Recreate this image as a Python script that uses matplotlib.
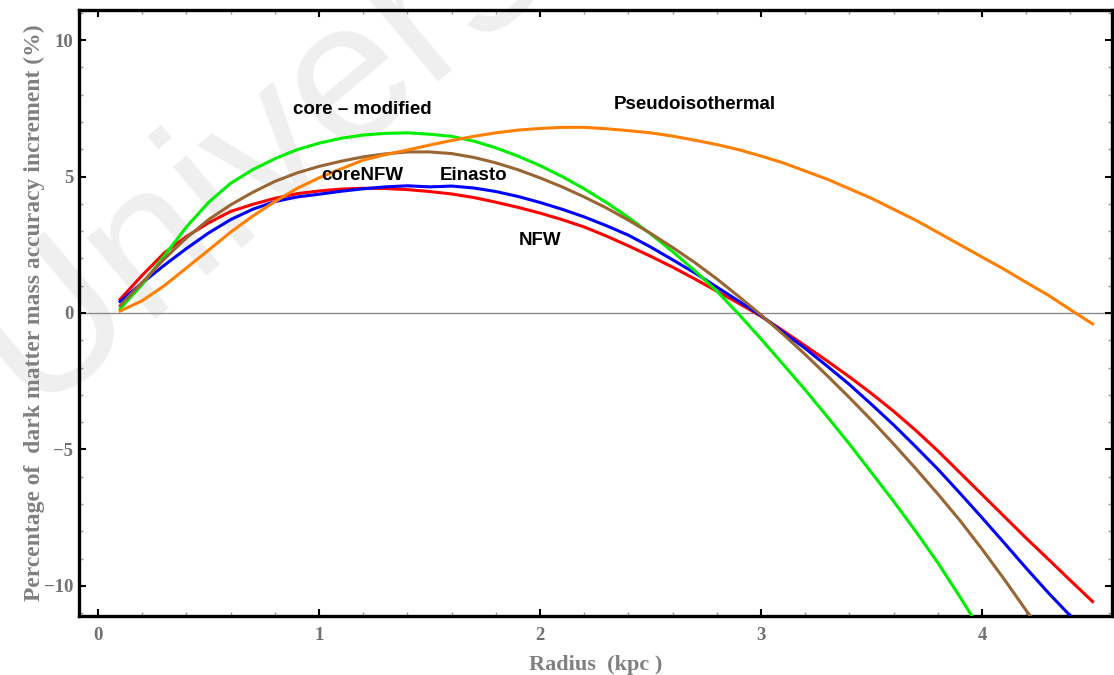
import numpy as np
import matplotlib
matplotlib.use("Agg")
import matplotlib.pyplot as plt
from matplotlib.ticker import MultipleLocator, FuncFormatter

# radius grid (kpc), 0.1 .. 4.5
radius = [0.1, 0.2, 0.3, 0.4, 0.5, 0.6, 0.7, 0.8, 0.9, 1.0,
          1.1, 1.2, 1.3, 1.4, 1.5, 1.6, 1.7, 1.8, 1.9, 2.0,
          2.1, 2.2, 2.3, 2.4, 2.5, 2.6, 2.7, 2.8, 2.9, 3.0,
          3.1, 3.2, 3.3, 3.4, 3.5, 3.6, 3.7, 3.8, 3.9, 4.0,
          4.1, 4.2, 4.3, 4.4, 4.5]

# percentage increment per profile (nan = off the chart)
nfw = [0.5, 1.38, 2.2, 2.8, 3.3, 3.72, 3.98, 4.2, 4.37, 4.47,
       4.54, 4.57, 4.56, 4.52, 4.45, 4.36, 4.23, 4.06, 3.87, 3.66,
       3.42, 3.15, 2.82, 2.46, 2.08, 1.68, 1.25, 0.8, 0.35, -0.12,
       -0.65, -1.2, -1.76, -2.34, -2.95, -3.6, -4.3, -5.05, -5.85, -6.65,
       -7.45, -8.25, -9.02, -9.8, -10.57]
einasto = [0.42, 1.1, 1.75, 2.36, 2.93, 3.42, 3.8, 4.08, 4.25, 4.35,
           4.46, 4.55, 4.62, 4.66, 4.62, 4.65, 4.58, 4.45, 4.27, 4.05,
           3.8, 3.52, 3.2, 2.85, 2.42, 1.95, 1.47, 0.95, 0.43, -0.1,
           -0.7, -1.3, -1.95, -2.62, -3.35, -4.1, -4.9, -5.72, -6.6, -7.5,
           -8.42, -9.35, -10.25, -11.1, np.nan]
core_nfw = [0.27, 1.12, 1.98, 2.75, 3.42, 3.96, 4.42, 4.82, 5.13, 5.37,
            5.56, 5.72, 5.83, 5.9, 5.9, 5.84, 5.7, 5.5, 5.25, 4.95,
            4.62, 4.25, 3.85, 3.4, 2.92, 2.4, 1.85, 1.25, 0.6, -0.07,
            -0.78, -1.52, -2.3, -3.1, -3.93, -4.8, -5.7, -6.63, -7.6, -8.65,
            -9.75, -10.9, -12.0, np.nan, np.nan]
core_mod = [0.15, 1.05, 2.1, 3.15, 4.05, 4.75, 5.25, 5.65, 5.98, 6.22,
            6.4, 6.52, 6.58, 6.6, 6.55, 6.47, 6.3, 6.05, 5.75, 5.4,
            5.0, 4.55, 4.05, 3.5, 2.9, 2.25, 1.55, 0.8, -0.05, -0.95,
            -1.88, -2.82, -3.8, -4.8, -5.85, -6.9, -8.0, -9.15, -10.4, -11.7,
            np.nan, np.nan, np.nan, np.nan, np.nan]
pseudo = [0.07, 0.45, 1.0, 1.65, 2.3, 2.96, 3.55, 4.08, 4.56, 4.95,
          5.28, 5.6, 5.8, 5.97, 6.15, 6.32, 6.47, 6.6, 6.7, 6.76,
          6.8, 6.8, 6.75, 6.68, 6.6, 6.48, 6.33, 6.17, 5.98, 5.75,
          5.5, 5.2, 4.9, 4.55, 4.2, 3.8, 3.4, 2.95, 2.5, 2.05,
          1.6, 1.12, 0.65, 0.12, -0.4]

fig = plt.figure(figsize=(11.14, 6.75), dpi=100)
ax = fig.add_axes([0.0709, 0.0874, 0.9273, 0.8978])
ax.set_facecolor("none")

# faint watermark behind the plot
fig.text(31 / 1114, 1 - 411 / 675, "University", rotation=40, rotation_mode="anchor",
         fontsize=145, color="#efefef", ha="left", va="baseline",
         family="Liberation Sans", zorder=-5)

ax.axhline(0, color="#8c8c8c", lw=1.0, zorder=1)

lw = 2.2
ax.plot(radius, nfw, color="#ff0000", lw=lw, zorder=3)
ax.plot(radius, einasto, color="#0000ff", lw=lw, zorder=4)
ax.plot(radius, core_mod, color="#00ee00", lw=lw, zorder=5)
ax.plot(radius, core_nfw, color="#996633", lw=lw, zorder=6)
ax.plot(radius, pseudo, color="#ff8000", lw=lw, zorder=7)

lab = dict(fontsize=13.5, fontweight="bold", family="Liberation Sans",
           ha="center", va="center", zorder=8)
ax.text(1.195, 7.44, "core \u2013 modified", **lab)
ax.text(1.195, 5.02, "coreNFW", **lab)
ax.text(1.70, 5.02, "Einasto", **lab)
ax.text(2.0, 2.67, "NFW", **lab)
ax.text(2.70, 7.62, "Pseudoisothermal", **lab)

ax.set_xlim(-0.086, 4.588)
ax.set_ylim(-11.1, 11.1)

ax.xaxis.set_major_locator(MultipleLocator(1))
ax.xaxis.set_minor_locator(MultipleLocator(0.2))
ax.yaxis.set_major_locator(MultipleLocator(5))
ax.yaxis.set_minor_locator(MultipleLocator(1))
fmt = FuncFormatter(lambda v, p: ("%d" % v).replace("-", "\u2212"))
ax.xaxis.set_major_formatter(fmt)
ax.yaxis.set_major_formatter(fmt)

ax.tick_params(which="both", direction="in", top=True, right=True)
ax.tick_params(which="major", length=5, width=1.5, color="black",
               labelsize=13.5, labelcolor="#707070")
ax.tick_params(axis="x", which="major", pad=8)
ax.tick_params(axis="y", which="major", pad=4)
ax.tick_params(which="minor", length=3, width=1, color="#999999")
for t in ax.get_xticklabels() + ax.get_yticklabels():
    t.set_family("Liberation Serif")
    t.set_fontweight("bold")

for s in ax.spines.values():
    s.set_linewidth(2.4)
    s.set_color("black")

ax.set_xlabel("Radius  (kpc )", fontsize=16, fontweight="bold",
              family="Liberation Serif", color="#808080", labelpad=8)
ax.set_ylabel("Percentage of  dark matter mass accuracy increment (%)", fontsize=17,
              fontweight="bold", family="Liberation Serif", color="#808080")
ax.yaxis.set_label_coords(-0.033, 0.5)

fig.savefig("out.png", dpi=100)
